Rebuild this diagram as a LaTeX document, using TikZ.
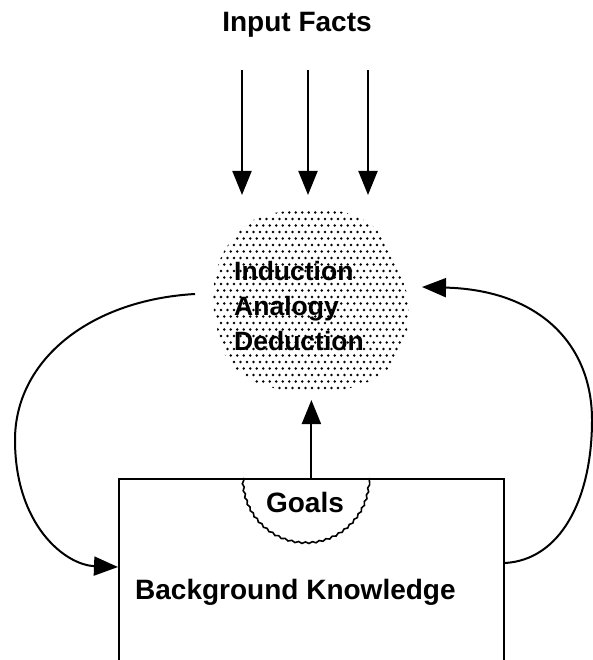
\documentclass[tikz,border=0pt]{standalone}
\usepackage{fontspec}
\setmainfont{Liberation Sans}
\usetikzlibrary{arrows.meta}
\usetikzlibrary{decorations.pathmorphing}

\tikzset{
	lbl/.style={font=\fontsize{28}{34}\selectfont\bfseries, inner sep=0pt},
	flow/.style={line width=2pt, -{Triangle[length=24pt,width=19pt]}},
}

\begin{document}
\begin{tikzpicture}[x=1pt,y=-1pt]
			\useasboundingbox (0,0) rectangle (592,660);
			
			% input facts
			\node[lbl,anchor=base] (facts) at (297,32) {Input Facts};
			\foreach \i/\x in {1/242,2/308,3/368} {
				\coordinate (fin\i) at (\x,70);
				\coordinate (fout\i) at (\x,195);
				\draw[flow] (fin\i) -- (fout\i);
			}
			
			% stippled cloud
			\begin{scope}
				\clip plot[smooth cycle] coordinates {(287,211) (343,212) (375,228) (395,260) (408,300) (405,340) (385,372) (350,388) (300,392) (255,382) (225,355) (213,300) (222,255) (250,222)};
				\foreach \j in {0,...,30}
				\foreach \i in {0,...,32}
				\fill ({208+6.5*\i+3.25*mod(\j,2)},{206+6.5*\j}) circle (1.3pt);
			\end{scope}
			\node[lbl,font=\fontsize{26.5}{35}\selectfont\bfseries,align=left,anchor=west] (reason) at (234,306) {Induction\\Analogy\\Deduction};
			
			% background knowledge
			\node[draw,line width=1.8pt,minimum width=385pt,minimum height=220pt,anchor=north west] (bg) at (118,478) {};
			\node[lbl,anchor=base west] (bgtext) at (135,599) {Background Knowledge};
			\draw[line width=1.6pt,decorate,decoration={snake,amplitude=0.8pt,segment length=7pt}] (243,478) arc[start angle=180,end angle=0,radius=63];
			\node[lbl,anchor=base] (goals) at (305,512) {Goals};
			\coordinate (cloudin) at (bg.north |- 0,400);
			\draw[flow] (bg.north) -- (cloudin);
			
			% loops
			\coordinate (lout) at (195,294);
			\draw[flow] (lout) .. controls (90,300) and (15,360) .. (15,440)
				.. controls (15,525) and (65,565) .. ([yshift=-89pt]bg.north west);
			\coordinate (rin) at (422,287);
			\draw[flow] ([yshift=-85pt]bg.north east) .. controls (560,560) and (592,500) .. (592,420)
				.. controls (592,345) and (540,290) .. (rin);
\end{tikzpicture}
\end{document}
